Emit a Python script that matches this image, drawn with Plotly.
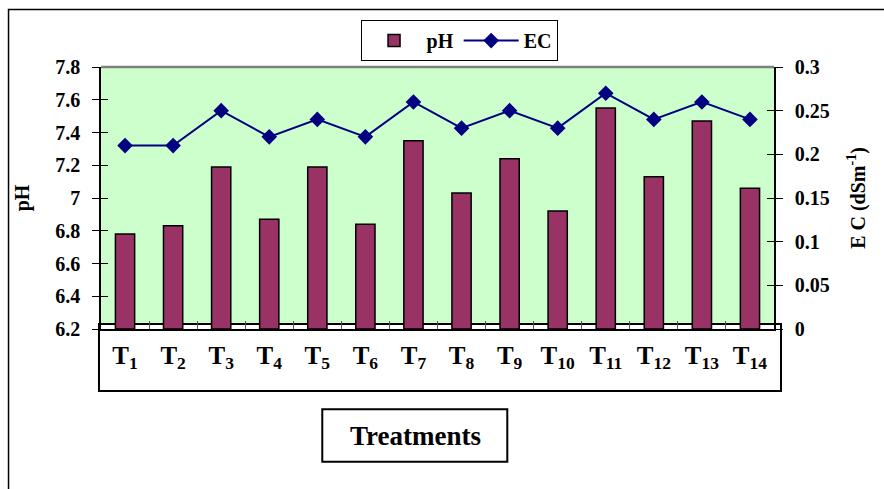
import plotly.graph_objects as go

categories = ["T1", "T2", "T3", "T4", "T5", "T6", "T7", "T8", "T9", "T10", "T11", "T12", "T13", "T14"]
tick_labels = ["T<sub>1</sub>", "T<sub>2</sub>", "T<sub>3</sub>", "T<sub>4</sub>", "T<sub>5</sub>",
               "T<sub>6</sub>", "T<sub>7</sub>", "T<sub>8</sub>", "T<sub>9</sub>", "T<sub>10</sub>",
               "T<sub>11</sub>", "T<sub>12</sub>", "T<sub>13</sub>", "T<sub>14</sub>"]
ph_values = [6.78, 6.83, 7.19, 6.87, 7.19, 6.84, 7.35, 7.03, 7.24, 6.92, 7.55, 7.13, 7.47, 7.06]
ec_values = [0.21, 0.21, 0.25, 0.22, 0.24, 0.22, 0.26, 0.23, 0.25, 0.23, 0.27, 0.24, 0.26, 0.24]
ph_ticks = [6.2, 6.4, 6.6, 6.8, 7.0, 7.2, 7.4, 7.6, 7.8]
ph_tick_text = ["6.2", "6.4", "6.6", "6.8", "7", "7.2", "7.4", "7.6", "7.8"]
ec_ticks = [0, 0.05, 0.1, 0.15, 0.2, 0.25, 0.3]
ec_tick_text = ["0", "0.05", "0.1", "0.15", "0.2", "0.25", "0.3"]

FONT = "Liberation Serif"
tick_font = dict(family=FONT, size=20, color="black", weight="bold")

fig = go.Figure()
fig.add_trace(go.Bar(
    x=categories, y=[v - 6.2 for v in ph_values], base=6.2, name="<b>pH</b>",
    marker=dict(color="#993366", line=dict(color="black", width=1.5)),
    yaxis="y",
))
fig.add_trace(go.Scatter(
    x=categories, y=ec_values, name="<b>EC</b>", mode="lines+markers",
    line=dict(color="#000080", width=2),
    marker=dict(symbol="diamond", size=12, color="#000080"),
    yaxis="y2",
))
# helper traces to carry the inner halves of the crossing tick marks
fig.add_trace(go.Scatter(x=categories, y=[None] * len(categories), yaxis="y3",
                         showlegend=False, hoverinfo="skip"))
fig.add_trace(go.Scatter(x=categories, y=[None] * len(categories), yaxis="y4",
                         showlegend=False, hoverinfo="skip"))

fig.update_layout(
    width=884, height=489,
    margin=dict(l=101, r=110, t=67, b=160),
    paper_bgcolor="white",
    plot_bgcolor="#CCFFCC",
    bargap=0.6,
    showlegend=True,
    legend=dict(
        orientation="h", x=0.532, y=1.179, xanchor="center", yanchor="top",
        bordercolor="black", borderwidth=1, bgcolor="white",
        font=dict(family=FONT, size=20, color="black"),
        itemwidth=55, tracegroupgap=0,
    ),
    xaxis=dict(
        type="category", tickvals=categories, ticktext=tick_labels,
        tickfont=dict(family=FONT, size=25, color="black", weight="bold"),
        ticks="inside", ticklen=8, tickcolor="#555555", tickson="boundaries",
        showline=True, linecolor="black", linewidth=2,
        showgrid=False, zeroline=False, ticklabelstandoff=3,
        range=[-0.5, 13.5],
    ),
    yaxis=dict(
        range=[6.2, 7.8], tickvals=ph_ticks, ticktext=ph_tick_text,
        tickfont=tick_font, ticks="outside", ticklen=7, tickcolor="black",
        showline=True, linecolor="black", linewidth=1.5,
        showgrid=False, zeroline=False, ticklabelstandoff=8,
        title=dict(text="<b>pH</b>", font=dict(family=FONT, size=20, color="black"), standoff=20),
    ),
    yaxis2=dict(
        range=[0, 0.3], tickvals=ec_ticks, ticktext=ec_tick_text,
        overlaying="y", side="right",
        tickfont=tick_font, ticks="outside", ticklen=7, tickcolor="black",
        showline=True, linecolor="black", linewidth=1.5,
        showgrid=False, zeroline=False, ticklabelstandoff=8,
        title=dict(text="<b>E C (dSm<sup>-1</sup>)</b>", font=dict(family=FONT, size=20, color="black"), standoff=22),
    ),
    yaxis3=dict(
        range=[6.2, 7.8], tickvals=ph_ticks, overlaying="y", side="left",
        showticklabels=False, ticks="inside", ticklen=7, tickcolor="black",
        showline=False, showgrid=False, zeroline=False,
    ),
    yaxis4=dict(
        range=[0, 0.3], tickvals=ec_ticks, overlaying="y", side="right",
        showticklabels=False, ticks="inside", ticklen=7, tickcolor="black",
        showline=False, showgrid=False, zeroline=False,
    ),
    shapes=[
        # outer chart frame
        dict(type="rect", xref="paper", yref="paper", x0=-0.1374, x1=1.18, y0=-0.65, y1=1.2195,
             line=dict(color="black", width=1.5), fillcolor="rgba(0,0,0,0)", layer="below"),
        # grey top border of plot area
        dict(type="line", xref="paper", yref="paper", x0=0, x1=1, y0=1, y1=1,
             line=dict(color="#808080", width=2.5), layer="above"),
        # box around category labels
        dict(type="rect", xref="paper", yref="paper", x0=-0.003, x1=1.0104, y0=-0.2366, y1=0.0195,
             line=dict(color="black", width=2), fillcolor="white", layer="between"),
        # box around axis title
        dict(type="rect", xref="paper", yref="paper", x0=0.3288, x1=0.6037, y0=-0.5065, y1=-0.3065,
             line=dict(color="black", width=2), fillcolor="white", layer="below"),
    ],
    annotations=[
        dict(text="<b>Treatments</b>", xref="paper", yref="paper", x=0.4666, y=-0.4065,
             xanchor="center", yanchor="middle", showarrow=False,
             font=dict(family=FONT, size=27, color="black")),
    ],
)

fig.write_html("out.html")
